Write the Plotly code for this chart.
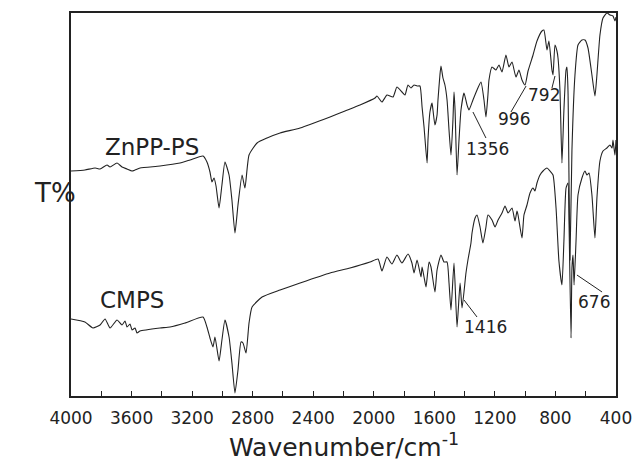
import plotly.graph_objects as go

# ZnPP-PS spectrum (wavenumber in cm-1, transmittance in arbitrary units)
znpp_wn = [4000, 3908, 3841, 3808, 3762, 3742, 3696, 3663, 3630, 3597, 3577, 3544, 3412, 3280, 3214, 3128,
           3102, 3082, 3069, 3055, 3042, 3022, 3003, 2983, 2956, 2937, 2917, 2897, 2870, 2851, 2824, 2771,
           2705, 2619, 2487, 2289, 2190, 2091, 1992, 1979, 1946, 1913, 1873, 1847, 1814, 1794, 1774, 1754,
           1734, 1714, 1695, 1681, 1668, 1648, 1642, 1629, 1615, 1609, 1596, 1582, 1576, 1563, 1556, 1543,
           1530, 1516, 1503, 1490, 1477, 1470, 1463, 1450, 1437, 1424, 1404, 1384, 1371, 1345, 1318, 1292,
           1272, 1259, 1246, 1239, 1219, 1193, 1173, 1153, 1127, 1107, 1087, 1061, 1041, 1021, 1001, 981,
           948, 922, 889, 876, 856, 843, 823, 816, 803, 790, 783, 770, 757, 744, 730, 724, 717, 704, 691,
           671, 651, 625, 605, 585, 559, 539, 526, 506, 486, 460, 440, 420, 407, 400]
znpp_t = [225, 226, 228, 227, 231, 229, 233, 229, 227, 225, 226, 228, 230, 233, 236, 240,
          234, 224, 214, 218, 210, 188, 211, 234, 221, 196, 163, 191, 221, 208, 241, 253,
          258, 263, 268, 279, 285, 291, 298, 300, 294, 301, 299, 309, 304, 301, 311, 308,
          311, 310, 310, 289, 269, 233, 256, 284, 293, 286, 271, 281, 296, 321, 330, 318,
          311, 296, 266, 241, 276, 304, 286, 221, 256, 286, 303, 291, 286, 296, 306, 314,
          296, 279, 301, 316, 329, 326, 331, 324, 341, 329, 334, 319, 326, 316, 311, 325,
          341, 355, 365, 366, 346, 355, 326, 321, 351, 345, 338, 305, 233, 286, 326, 329, 305, 136, 246,
          321, 351, 356, 356, 348, 321, 300, 321, 361, 378, 383, 381, 380, 375, 379]

# CMPS spectrum
cmps_wn = [4000, 3908, 3855, 3808, 3775, 3742, 3696, 3663, 3643, 3630, 3610, 3597, 3577, 3564, 3544, 3412,
           3346, 3247, 3128, 3102, 3082, 3062, 3049, 3022, 3003, 2983, 2956, 2937, 2917, 2897, 2877, 2864,
           2844, 2824, 2804, 2738, 2619, 2487, 2289, 2157, 2025, 1972, 1946, 1913, 1880, 1847, 1814, 1774,
           1748, 1734, 1714, 1688, 1681, 1668, 1655, 1635, 1622, 1596, 1582, 1556, 1536, 1516, 1503, 1490,
           1470, 1450, 1430, 1417, 1391, 1378, 1358, 1351, 1331, 1318, 1298, 1279, 1259, 1246, 1219, 1199,
           1179, 1153, 1133, 1113, 1087, 1067, 1054, 1047, 1021, 1008, 988, 968, 948, 935, 922, 902, 882,
           856, 836, 816, 796, 777, 757, 744, 730, 717, 710, 697, 691, 684, 677, 664, 651, 625, 605, 592,
           578, 559, 539, 526, 506, 486, 460, 440, 426, 420, 407, 400]
cmps_t = [77, 74, 68, 71, 77, 68, 76, 71, 75, 69, 72, 66, 68, 63, 65, 68,
          69, 73, 79, 69, 58, 49, 59, 35, 56, 76, 59, 33, 3, 26, 54, 53,
          43, 73, 89, 99, 106, 113, 123, 128, 134, 137, 125, 139, 132, 141, 133, 142,
          133, 123, 136, 119, 129, 119, 109, 134, 129, 104, 126, 141, 134, 134, 113, 86,
          133, 69, 113, 88, 123, 136, 153, 163, 178, 181, 169, 153, 169, 181, 176, 169,
          176, 183, 190, 183, 188, 175, 185, 181, 158, 181, 191, 203, 208, 205, 213, 221, 225,
          228, 225, 221, 188, 135, 111, 155, 208, 213, 171, 58, 128, 141, 111, 155, 201, 218, 225, 221,
          223, 201, 158, 198, 235, 245, 248, 251, 248, 256, 241, 256]

series_names = ["ZnPP-PS", "CMPS"]
x_tickvals = [4000, 3600, 3200, 2800, 2400, 2000, 1600, 1200, 800, 400]

# peak labels: text, label position (wn, T), leader start, leader end
peak_text = ["1356", "996", "792", "1416", "676"]
peak_label_wn = [1246, 1074, 876, 1265, 545]
peak_label_t = [247, 277, 301, 69, 94]
lead_x0 = [1345, 1094, 803, 1404, 658]
lead_y0 = [284, 284, 320, 96, 121]
lead_x1 = [1259, 994, 823, 1318, 492]
lead_y1 = [258, 310, 308, 79, 104]

FONT = "DejaVu Sans"
INK = "#222222"

fig = go.Figure()
fig.add_trace(go.Scatter(x=znpp_wn, y=znpp_t, mode="lines", name=series_names[0],
                         line=dict(color=INK, width=1.1, shape="spline", smoothing=0.5), showlegend=False))
fig.add_trace(go.Scatter(x=cmps_wn, y=cmps_t, mode="lines", name=series_names[1],
                         line=dict(color=INK, width=1.1, shape="spline", smoothing=0.5), showlegend=False))

for i, t in enumerate(peak_text):
    fig.add_annotation(x=peak_label_wn[i], y=peak_label_t[i], text=t, showarrow=False,
                       xref="x", yref="y", font=dict(family=FONT, size=17, color=INK))
    fig.add_shape(type="line", x0=lead_x0[i], y0=lead_y0[i], x1=lead_x1[i], y1=lead_y1[i],
                  xref="x", yref="y", line=dict(color=INK, width=1))

fig.add_annotation(x=3465, y=249, text=series_names[0], showarrow=False, xref="x", yref="y",
                   font=dict(family=FONT, size=23, color=INK))
fig.add_annotation(x=3597, y=96, text=series_names[1], showarrow=False, xref="x", yref="y",
                   font=dict(family=FONT, size=23, color=INK))
fig.add_annotation(x=-0.0716, y=0.53, text="T%", showarrow=False, xref="paper", yref="paper",
                   font=dict(family=FONT, size=26, color=INK))
# x-axis title
fig.add_annotation(x=0.5, y=-0.128, text="Wavenumber/cm<sup>-1</sup>", showarrow=False,
                   xref="paper", yref="paper", yanchor="middle",
                   font=dict(family=FONT, size=25, color=INK))

fig.update_xaxes(range=[4000, 400], tickvals=x_tickvals, ticks="inside", ticklen=5, tickwidth=1.2,
                 tickcolor=INK, showline=True, linecolor=INK, linewidth=1.5, mirror=True,
                 showgrid=False, zeroline=False, ticklabelstandoff=6, automargin=False,
                 minor=dict(dtick=200, ticks="inside", ticklen=5, tickwidth=1.2, tickcolor=INK, showgrid=False),
                 tickfont=dict(family=FONT, size=17, color=INK))
fig.update_yaxes(range=[0, 383], showticklabels=False, ticks="", showline=True, linecolor=INK,
                 linewidth=1.5, mirror=True, showgrid=False, zeroline=False, automargin=False)

fig.update_layout(width=634, height=461, margin=dict(l=71, r=18, t=13, b=65),
                  plot_bgcolor="white", paper_bgcolor="white")

fig.write_html("out.html")
